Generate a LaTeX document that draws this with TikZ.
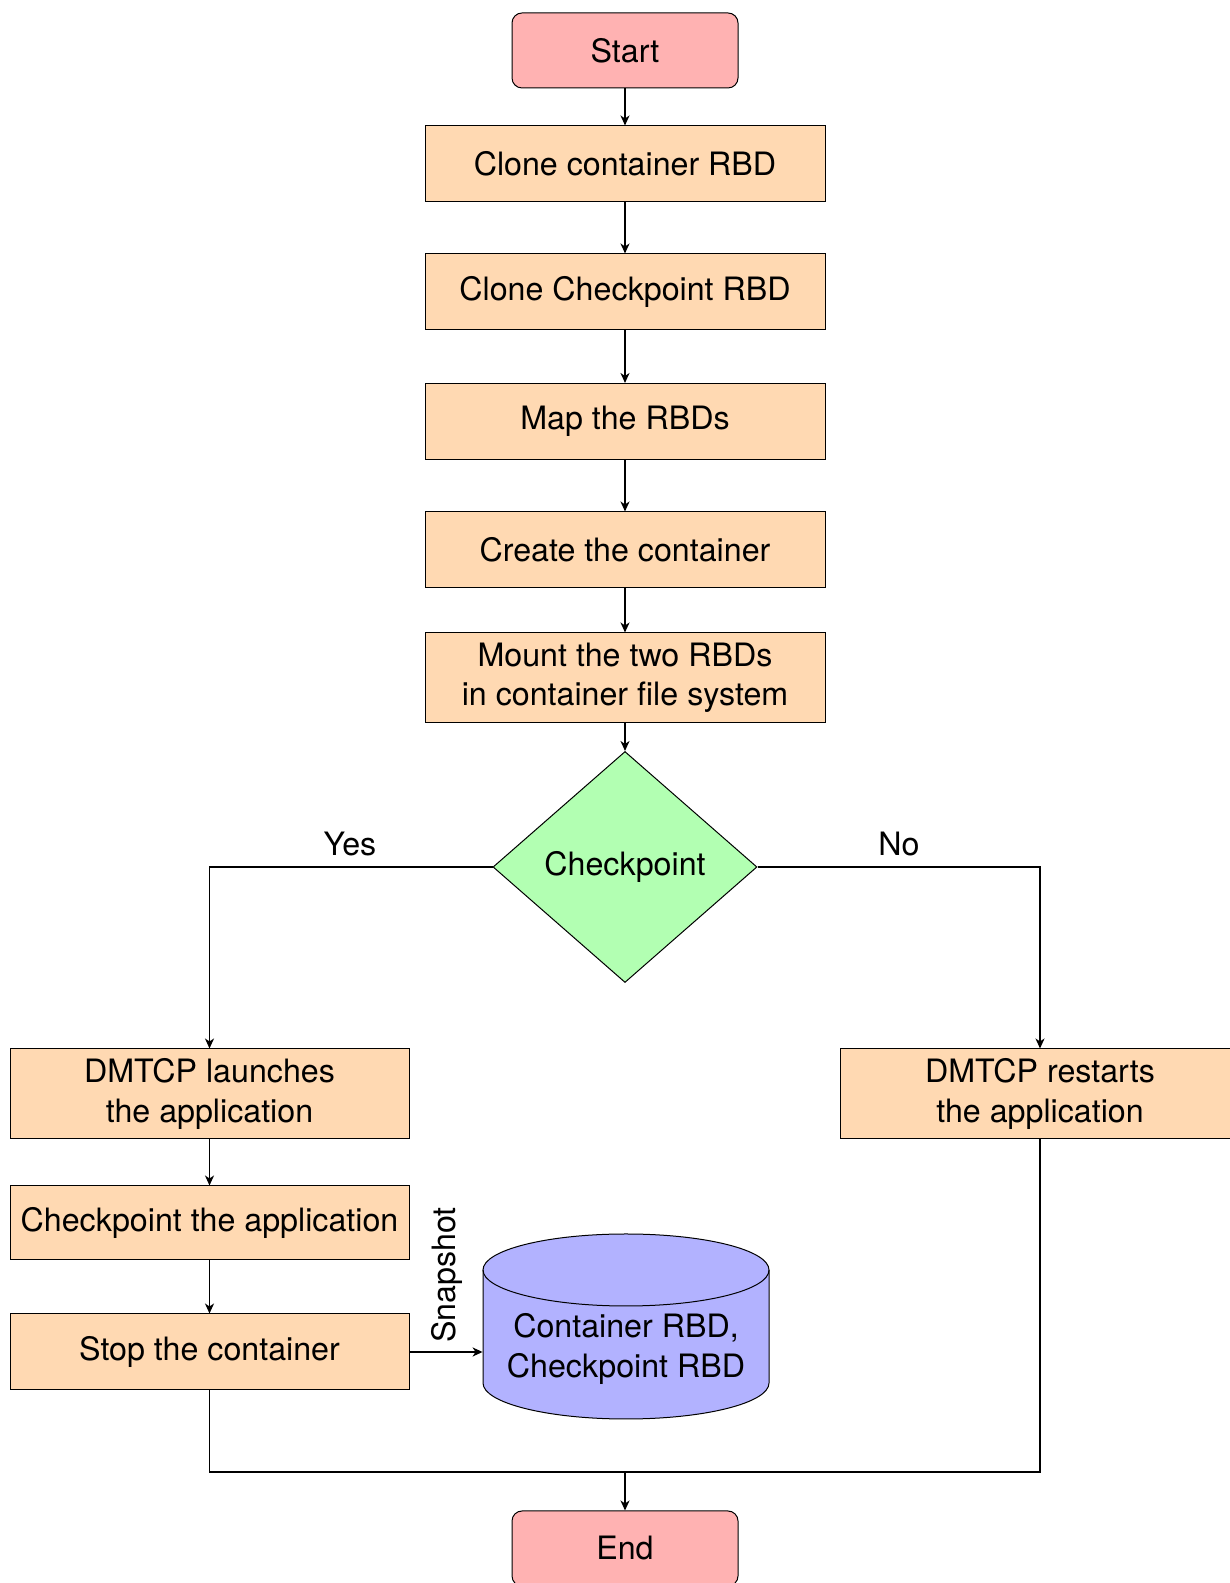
\documentclass[tikz,border=0pt]{standalone}
\usepackage{fontspec}
\setmainfont{TeX Gyre Heros}
\usetikzlibrary{shapes.geometric,arrows.meta}
\begin{document}
\begin{tikzpicture}[x=0.5pt,y=0.5pt,
  base/.style={draw, line width=0.5pt, font=\fontsize{16.1}{19.7}\selectfont, align=center, inner sep=0pt},
  proc/.style={base, fill=orange!30, minimum width=200pt, minimum height=38pt},
  term/.style={base, fill=red!30, rounded corners=5pt, minimum width=113pt, minimum height=37.5pt},
  decision/.style={base, diamond, fill=green!30, minimum width=132pt, minimum height=115.5pt},
  lbl/.style={font=\fontsize{16.1}{19.7}\selectfont, align=center, inner sep=0pt},
  conn/.style={line width=0.8pt, -{Stealth[length=5pt,width=4.5pt,inset=1.5pt]}},
  line/.style={line width=0.8pt}]
\useasboundingbox (0,0) rectangle (1230,1583);

\node[term] (start) at (625,1532.5) {Start};
\node[proc] (clone1) at (625,1419) {Clone container RBD};
\node[proc] (clone2) at (625,1291) {Clone Checkpoint RBD};
\node[proc] (map) at (625,1161.5) {Map the RBDs};
\node[proc] (create) at (625,1033) {Create the container};
\node[proc, minimum height=45pt] (mount) at (625,905) {Mount the two RBDs\\in container file system};
\node[decision] (dec) at (625,716) {Checkpoint};
\node[proc, minimum width=199.5pt, minimum height=45pt] (launch) at (209.5,489) {DMTCP launches\\the application};
\node[proc, minimum width=199.5pt, minimum height=45pt] (restart) at (1040,489) {DMTCP restarts\\the application};
\node[proc, minimum width=199.5pt, minimum height=37pt] (ckpt) at (209.5,360) {Checkpoint the application};
\node[proc, minimum width=199.5pt, minimum height=38pt] (stop) at (209.5,231) {Stop the container};
\node[term] (end) at (625,34.5) {End};

% cylinder
\fill[blue!30] (483,313) -- (483,200) arc[start angle=180,end angle=360,x radius=143,y radius=36] -- (769,313) arc[start angle=0,end angle=180,x radius=143,y radius=36] -- cycle;
\draw[line width=0.5pt] (483,313) -- (483,200) arc[start angle=180,end angle=360,x radius=143,y radius=36] -- (769,313);
\draw[line width=0.5pt] (626,313) ellipse[x radius=143,y radius=36];
\node[lbl, minimum width=143pt] (db) at (626,234) {Container RBD,\\Checkpoint RBD};

\node[lbl] (yes) at (350,739) {Yes};
\node[lbl] (no) at (899,739) {No};
\node[lbl, rotate=90] (snap) at (447,308) {Snapshot};

\coordinate (jm) at (625,111);

\draw[conn] (start) -- (clone1);
\draw[conn] (clone1) -- (clone2);
\draw[conn] (clone2) -- (map);
\draw[conn] (map) -- (create);
\draw[conn] (create) -- (mount);
\draw[conn] (mount) -- (dec);
\draw[conn] (dec.west) -| (launch.north);
\draw[conn] (dec.east) -| (restart.north);
\draw[conn] (launch) -- (ckpt);
\draw[conn] (ckpt) -- (stop);
\draw[conn] (stop.east) -- (stop.east -| db.west);
\draw[line] (stop.south) |- (jm) -| (restart.south);
\draw[conn] (jm) -- (end.north);
\end{tikzpicture}
\end{document}
